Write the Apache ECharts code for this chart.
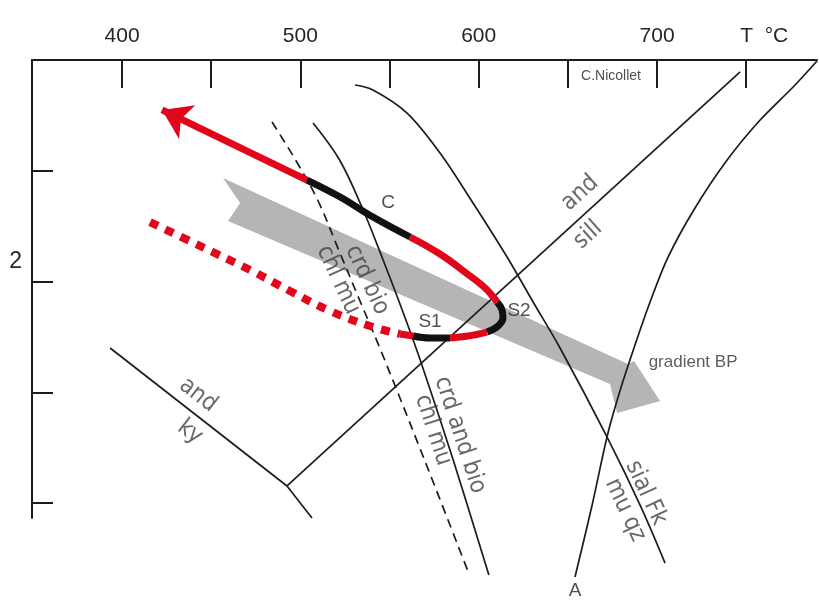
<!DOCTYPE html>
<html>
<head>
<meta charset="utf-8">
<script src="https://cdn.jsdelivr.net/npm/echarts@6/dist/echarts.min.js"></script>
<style>
  html, body { margin: 0; padding: 0; background: #ffffff; }
  #chart { width: 819px; height: 601px; }
</style>
</head>
<body>
<div id="chart"></div>
<script>
// Axis ticks: temperature (°C) on top, pressure (kbar) down the left side
const tempTicks = [400, 450, 500, 550, 600, 650, 700, 750];
const tempLabels = [400, 500, 600, 700, 750];
const pressTicks = [1, 2, 3, 4];
const pressLabels = [2];

// Reaction curves, points as [T °C, P kbar]
const andKy = [[393.3, 2.600], [492.5, 3.846]];
const kySill = [[492.5, 3.846], [506.5, 4.135]];
const andSill = [[492.5, 3.846], [746.6, 0.108]];
const chlMuToCrdBio = [[484.1, 0.560], [497.3, 0.903], [509.7, 1.264], [521.5, 1.716],
  [533.2, 2.167], [545.0, 2.618], [567.4, 3.521], [594.8, 4.650]];
const chlMuToCrdAndBio = [[507.1, 0.569], [522.0, 0.903], [535.2, 1.354], [546.4, 1.806],
  [557.1, 2.257], [567.2, 2.709], [585.7, 3.612], [605.7, 4.650]];
const muQzToSialFk = [[530.7, 0.226], [540.7, 0.271], [559.8, 0.479], [578.3, 0.840],
  [596.8, 1.291], [615.9, 1.779], [630.5, 2.185], [645.6, 2.600], [672.0, 3.404],
  [690.5, 4.018], [704.5, 4.542]];
const curveA = [[654.0, 4.668], [663.6, 4.018], [672.5, 3.368], [680.4, 2.926], [688.2, 2.546],
  [696.1, 2.185], [706.2, 1.779], [721.3, 1.336], [739.3, 0.903], [757.8, 0.542],
  [776.3, 0.244], [789.7, 0.009]];

// Geothermal gradient band (BP), outline of the broad arrow
const gradientBP = [[456.6, 1.065], [683.7, 2.745], [687.1, 2.718], [701.7, 3.079],
  [677.6, 3.187], [673.6, 2.926], [459.4, 1.454], [466.2, 1.291]];

// P-T path, in the order it is travelled
const pathInferred = [[415.7, 1.463], [443.7, 1.679], [471.8, 1.896], [494.2, 2.086],
  [516.6, 2.266], [539.1, 2.402], [555.9, 2.474]];
const pathRed1 = [[555.9, 2.474], [563.2, 2.492]];
const pathBlack1 = [[563.2, 2.492], [572.7, 2.510], [583.9, 2.510]];
const pathRed2 = [[583.9, 2.510], [594.0, 2.492], [604.7, 2.456]];
const pathBlack2 = [[604.7, 2.456], [610.8, 2.402], [613.6, 2.330], [613.1, 2.257], [610.3, 2.185]];
const pathRed3 = [[610.3, 2.185], [603.6, 2.059], [592.9, 1.923], [578.3, 1.752], [561.5, 1.598]];
const pathBlack3 = [[561.5, 1.598], [540.7, 1.418], [522.3, 1.237], [503.7, 1.084]];
const pathRetro = [[503.7, 1.084], [422.4, 0.451]];

// Text annotations: [text, T, P, rotation in degrees]
const pointNames = [['C', 549.2, 1.291, 0], ['S1', 572.7, 2.366, 0], ['S2', 622.6, 2.266, 0], ['A', 654.0, 4.795, 0]];
const reactionNames = [
  ['and', 656.8, 1.201, 42], ['sill', 661.3, 1.580, 42],
  ['and', 442.6, 3.025, -38], ['ky', 438.1, 3.359, -38],
  ['crd bio', 537.4, 1.986, -65], ['chl mu', 521.1, 1.986, -65],
  ['crd and bio', 589.5, 3.386, -72], ['chl mu', 574.4, 3.341, -72],
  ['sial Fk', 693.8, 3.910, -65], ['mu qz', 682.1, 4.063, -65]
];
const gradientName = [['gradient BP', 720.2, 2.727, 0]];
const authorName = [['C.Nicollet', 674.2, 0.144, 0]];

const RED = '#e2061b';
const INK = '#1c1c1c';
const CONDENSED = '"DejaVu Sans Condensed", "Liberation Sans", sans-serif';
const SANS = '"Liberation Sans", Arial, sans-serif';

function curve(data, opts) {
  return Object.assign({
    type: 'line', data: data, showSymbol: false, symbol: 'none', clip: false, silent: true,
    smooth: 0.35, lineStyle: { color: INK, width: 1.7 }, z: 3, animation: false
  }, opts || {});
}
function pathPart(data, color) {
  return curve(data, { smooth: 0.4, lineStyle: { color: color, width: 7, cap: 'butt' }, z: 5 });
}
function texts(list, style) {
  return {
    type: 'scatter', symbolSize: 0, clip: false, silent: true, z: 10, animation: false,
    data: list.map(d => ({ name: d[0], value: [d[1], d[2]], label: { rotate: d[3] } })),
    label: Object.assign({ show: true, position: 'inside', formatter: p => p.name }, style)
  };
}

const chart = echarts.init(document.getElementById('chart'), null, { renderer: 'canvas' });
chart.setOption({
  backgroundColor: '#ffffff',
  animation: false,
  grid: { left: 32, right: 2, top: 60, bottom: 83 },
  xAxis: {
    type: 'value', position: 'top', min: 349.5, max: 789.7,
    splitLine: { show: false },
    axisLine: { show: true, onZero: false, lineStyle: { color: INK, width: 2 } },
    axisTick: { show: true, inside: true, length: 28, customValues: tempTicks, lineStyle: { color: INK, width: 2 } },
    axisLabel: {
      show: true, margin: 13, customValues: tempLabels,
      fontFamily: SANS, fontSize: 21, color: '#262626',
      formatter: v => (v === 750 ? '{tc|T  \u00B0C}' : String(v)),
      rich: { tc: { fontFamily: SANS, fontSize: 21, color: '#262626', padding: [0, 0, 0, 36] } }
    }
  },
  yAxis: {
    type: 'value', inverse: true, min: 0, max: 4.135,
    splitLine: { show: false },
    axisLine: { show: true, onZero: false, lineStyle: { color: INK, width: 2 } },
    axisTick: { show: true, inside: true, length: 21, customValues: pressTicks, lineStyle: { color: INK, width: 2 } },
    axisLabel: {
      show: true, margin: 10, customValues: pressLabels,
      fontFamily: SANS, fontSize: 23, color: '#262626',
      verticalAlign: 'bottom', padding: [0, 0, 8, 0]
    }
  },
  series: [
    {
      type: 'custom', silent: true, z: 1, clip: false, animation: false,
      data: gradientBP,
      renderItem: function (params, api) {
        if (params.dataIndex !== 0) return null;
        return {
          type: 'polygon',
          shape: { points: gradientBP.map(p => api.coord(p)) },
          style: { fill: '#b5b5b5' }
        };
      }
    },
    curve(andKy, { smooth: false }),
    curve(kySill, { smooth: false }),
    curve(andSill, { smooth: false }),
    curve(chlMuToCrdBio, { lineStyle: { color: INK, width: 1.7, type: [9, 6] } }),
    curve(chlMuToCrdAndBio),
    curve(muQzToSialFk),
    curve(curveA),
    curve(pathInferred, { smooth: 0.4, z: 5, lineStyle: { color: RED, width: 8, type: [9, 8], cap: 'butt' } }),
    pathPart(pathRed1, RED),
    pathPart(pathBlack1, '#111111'),
    pathPart(pathRed2, RED),
    pathPart(pathBlack2, '#111111'),
    pathPart(pathRed3, RED),
    pathPart(pathBlack3, '#111111'),
    {
      type: 'lines', coordinateSystem: 'cartesian2d', polyline: false, silent: true, z: 5, animation: false,
      symbol: ['none', 'arrow'], symbolSize: [24, 28],
      lineStyle: { color: RED, width: 7, opacity: 1, curveness: 0 },
      itemStyle: { color: RED },
      data: [{ coords: pathRetro }]
    },
    texts(pointNames, { fontFamily: SANS, fontSize: 19, color: '#262626' }),
    texts(reactionNames, { fontFamily: CONDENSED, fontSize: 24, color: '#444444' }),
    texts(gradientName, { fontFamily: SANS, fontSize: 17, color: '#333333' }),
    texts(authorName, { fontFamily: SANS, fontSize: 14, color: '#222222' })
  ]
});
</script>
</body>
</html>
